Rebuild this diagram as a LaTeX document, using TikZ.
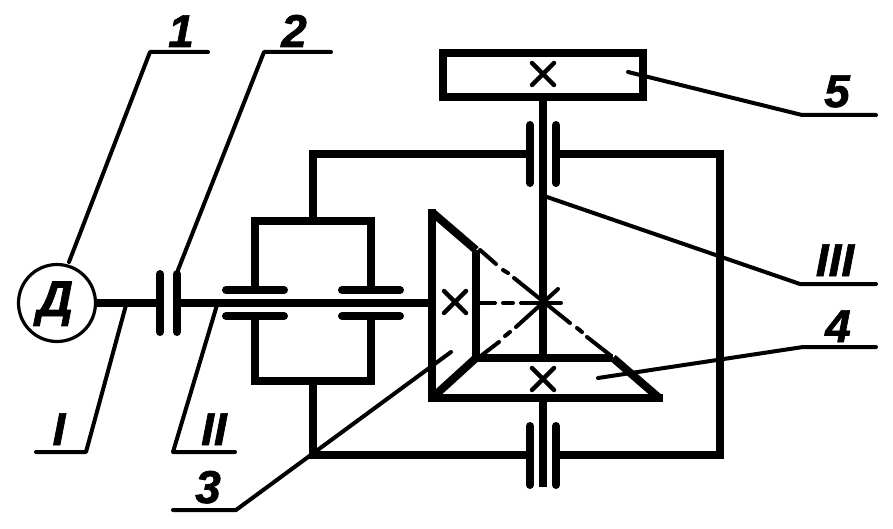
\documentclass[tikz,border=0pt]{standalone}
\usepackage{fontspec}
\setmainfont{Liberation Sans}[BoldItalicFeatures={FakeBold=1.5}]
\tikzset{
  thick line/.style={line width=8pt,line cap=butt,line join=miter},
  capped/.style={line width=8pt,line cap=round},
  leader/.style={line width=4pt,line cap=round,line join=round},
  cross/.style={line width=4.5pt,line cap=round},
  centre/.style={line width=4pt,line cap=round},
  lab/.style={inner sep=0pt,anchor=base,font=\fontsize{46}{46}\selectfont\bfseries\itshape}
}
\newcommand{\crossat}[2]{\draw[cross] (#1-11,#2-11) -- (#1+11,#2+11) (#1-11,#2+11) -- (#1+11,#2-11);}
\begin{document}
\begin{tikzpicture}[x=1pt,y=-1pt]
\useasboundingbox (0,0) rectangle (893,529);
% motor
\node[circle,draw,line width=3.2pt,minimum size=77pt,inner sep=0pt] (motor) at (57,303) {};
\node[lab,font=\fontsize{50}{50}\selectfont\bfseries\itshape] (d) at (55,316) {Д};
% shafts
\coordinate (cl1) at (160,303);
\coordinate (cl2) at (177,303);
\coordinate (bev) at (432,303);
\draw[thick line] (motor.east) -- (cl1);
\draw[thick line] (cl2) -- (bev);
\draw[capped] (160,274) -- (160,332);
\draw[capped] (177,274) -- (177,332);
% bearings
\foreach \a/\b in {226/284,342/400}{
  \draw[capped] (\a,290) -- (\b,290);
  \draw[capped] (\a,316) -- (\b,316);
}
% carrier
\draw[thick line] (255,290) -- (255,221) -- (371,221) -- (371,290);
\draw[thick line] (255,316) -- (255,381) -- (371,381) -- (371,316);
\draw[thick line] (313,221) -- (313,154);
\draw[thick line] (313,381) -- (313,459);
% frame
\draw[thick line] (309,154) -- (530,154);
\draw[thick line] (556,154) -- (720,154) -- (720,455) -- (556,455);
\draw[thick line] (309,455) -- (530,455);
% clutches on vertical shaft
\foreach \x in {530,556}{
  \draw[capped] (\x,125) -- (\x,183);
  \draw[capped] (\x,426) -- (\x,485);
}
% top wheel
\draw[thick line] (443,53) rectangle (643,97);
\crossat{543}{74}
\coordinate (wheelb) at (543,97);
\draw[thick line] (wheelb) -- (543,358);
\draw[thick line] (543,398) -- (543,487);
% bevel gears
\coordinate (p1) at (433,213);
\coordinate (p2) at (476,250);
\coordinate (p3) at (476,358);
\coordinate (p4) at (613,358);
\coordinate (p5) at (658,397);
\coordinate (p6) at (432,398);
\draw[thick line] (432,209) -- (432,402);
\draw[thick line] (p1) -- (p2);
\draw[thick line] (p2) -- (p3);
\draw[thick line] (p6) -- (p3);
\draw[thick line] (472,358) -- (p4);
\draw[thick line] (p4) -- (p5);
\draw[thick line] (428,398) -- (663,398);
\crossat{455}{302}
\crossat{543}{379}
% centre lines
\foreach \a/\b/\c/\d in {479/303/495/303,503/303/513/303,521/303/561/303,
  480/250/496/264,503/270/508/273,514/278/570/323,577/328/582/332,587/337/610/355,
  482/355/499/342,505/336/510/332,516/327/558/289}{
  \draw[centre] (\a,\b) -- (\c,\d);
}
% leaders and labels
\coordinate (a1) at (69,262); \coordinate (b1) at (150,52); \coordinate (c1) at (208,52);
\draw[leader] (a1) -- (b1) -- (c1);
\node[lab] (n1) at (181,47) {1};
\coordinate (a2) at (178,270); \coordinate (b2) at (264,52); \coordinate (c2) at (331,52);
\draw[leader] (a2) -- (b2) -- (c2);
\node[lab] (n2) at (294,47) {2};
\coordinate (a3) at (126,305); \coordinate (b3) at (86,452); \coordinate (c3) at (36,452);
\draw[leader] (a3) -- (b3) -- (c3);
\node[lab] (nI) at (59,445) {I};
\coordinate (a4) at (217,305); \coordinate (b4) at (173,452); \coordinate (c4) at (235,452);
\draw[leader] (a4) -- (b4) -- (c4);
\node[lab] (nII) at (214,445) {II};
\coordinate (a5) at (451,352); \coordinate (b5) at (236,510); \coordinate (c5) at (173,510);
\draw[leader] (a5) -- (b5) -- (c5);
\node[lab] (n3) at (208,503) {3};
\coordinate (a6) at (598,378); \coordinate (b6) at (803,347); \coordinate (c6) at (876,347);
\draw[leader] (a6) -- (b6) -- (c6);
\node[lab] (n4) at (838,342) {4};
\coordinate (a7) at (547,197); \coordinate (b7) at (800,284); \coordinate (c7) at (876,284);
\draw[leader] (a7) -- (b7) -- (c7);
\node[lab] (nIII) at (835,276) {III};
\coordinate (a8) at (628,72); \coordinate (b8) at (802,115); \coordinate (c8) at (876,115);
\draw[leader] (a8) -- (b8) -- (c8);
\node[lab] (n5) at (837,107) {5};
\end{tikzpicture}
\end{document}
